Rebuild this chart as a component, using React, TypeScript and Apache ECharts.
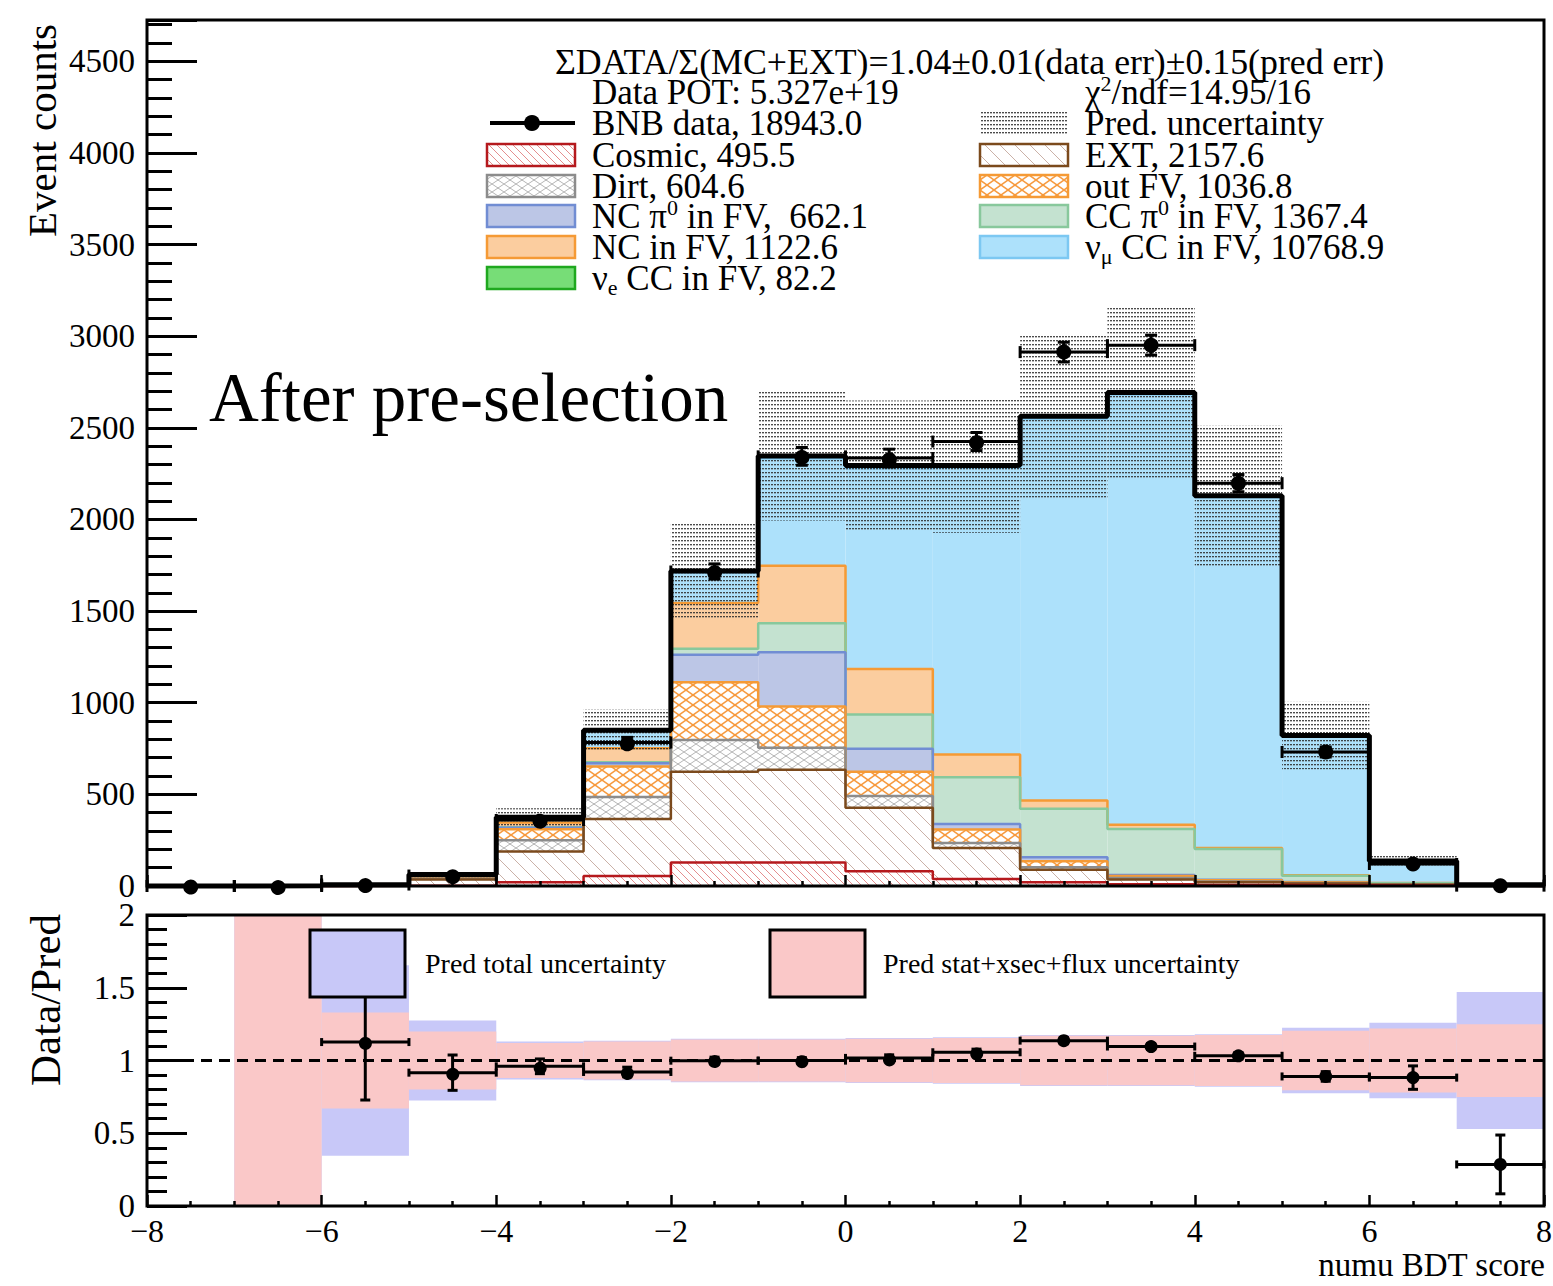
import React, { useEffect, useRef } from "react";
import * as echarts from "echarts";

const SERIF = "Liberation Serif";

// Bin edges of the numu BDT score histogram
const binEdges = [-8, -7, -6, -5, -4, -3, -2, -1, 0, 1, 2, 3, 4, 5, 6, 7, 8];

// Stacked prediction per bin, from the bottom of the stack to the top
const cosmic = [0, 0, 1, 3, 20, 55, 128, 128, 80, 38, 20, 10, 6, 4, 2, 0.5];
const ext = [0, 1.6, 3, 32, 168, 310, 495, 506, 347, 169, 68, 25, 15, 10, 5, 3];
const dirt = [0, 0, 1, 5, 62, 121, 173, 120, 64, 28, 14, 8, 4, 3, 1, 0.6];
const outFV = [0, 0, 1, 8, 60, 166, 316, 226, 131.8, 73, 33, 12, 6, 3, 1, 0];
const ncPi0InFV = [0, 0, 0.1, 2, 8, 18, 150, 295, 126, 30, 22, 5, 3, 2, 1, 0];
const ccPi0InFV = [0, 0, 0, 2, 3, 5, 33, 159, 187, 255, 265, 250.4, 168, 34, 5, 1];
const ncInFV = [0, 0, 0, 7, 25, 76, 249, 314, 248, 124.6, 45, 24, 6, 3, 1, 0];
const numuCCInFV = [0, 0, 1, 3, 28, 97, 166, 586, 1095.2, 1565.4, 2084, 2348.4, 1915, 759, 119, 1.9];
const nueCCInFV = [0, 0, 0, 0.2, 1, 2, 8, 12, 15, 12, 12, 10, 6, 3, 1, 0];

// Observed BNB events per bin
const bnbData = [0, 0, 8, 57, 360, 783, 1716, 2344, 2335, 2425, 2913, 2951, 2198, 731, 120, 2];

// Fractional uncertainty of the prediction per bin
const predTotalRelErr = [0, 2.5, 0.655, 0.275, 0.13, 0.135, 0.15, 0.15, 0.155, 0.16, 0.175, 0.175, 0.18, 0.225, 0.26, 0.47];
const predStatXsecFluxRelErr = [0, 2.5, 0.33, 0.2, 0.12, 0.13, 0.145, 0.145, 0.15, 0.155, 0.17, 0.17, 0.175, 0.205, 0.22, 0.25];

// Axis tick labels
const xTickValues = [-8, -6, -4, -2, 0, 2, 4, 6, 8];
const xTickLabels = ["\u22128", "\u22126", "\u22124", "\u22122", "0", "2", "4", "6", "8"];
const countTickValues = [0, 500, 1000, 1500, 2000, 2500, 3000, 3500, 4000, 4500];
const countTickLabels = ["0", "500", "1000", "1500", "2000", "2500", "3000", "3500", "4000", "4500"];
const ratioTickValues = [0, 0.5, 1, 1.5, 2];
const ratioTickLabels = ["0", "0.5", "1", "1.5", "2"];

const countAxisMax = 4725;
const ratioAxisMax = 2;

const sum = (a: number[]) => a.reduce((s, v) => s + v, 0);

function labelFrom(values: number[], labels: string[]) {
  return (v: number) => {
    const i = values.findIndex((t) => Math.abs(t - v) < 1e-6);
    return i >= 0 ? labels[i] : "";
  };
}

function makeCanvas(w: number, h: number, draw: (ctx: CanvasRenderingContext2D) => void) {
  const c = document.createElement("canvas");
  c.width = w;
  c.height = h;
  const ctx = c.getContext("2d") as CanvasRenderingContext2D;
  draw(ctx);
  return { image: c, repeat: "repeat", imageWidth: w, imageHeight: h };
}

// Diagonal hatching; "back" runs top-left to bottom-right, "fwd" the other way
function hatch(w: number, h: number, color: string, lw: number, dirs: string[]) {
  return makeCanvas(w, h, (ctx) => {
    ctx.strokeStyle = color;
    ctx.lineWidth = lw;
    for (const d of dirs) {
      for (const k of [-w, 0, w]) {
        ctx.beginPath();
        if (d === "back") {
          ctx.moveTo(k, 0);
          ctx.lineTo(k + w, h);
        } else {
          ctx.moveTo(k, h);
          ctx.lineTo(k + w, 0);
        }
        ctx.stroke();
      }
    }
  });
}

function dotted() {
  return makeCanvas(3, 4, (ctx) => {
    ctx.fillStyle = "rgba(30,30,30,0.8)";
    ctx.fillRect(0, 0, 2, 1);
    ctx.fillStyle = "rgba(110,110,110,0.45)";
    ctx.fillRect(0, 1, 2, 1);
  });
}

const stepLine = (h: number[]) =>
  h.flatMap((v, b) => [
    [binEdges[b], v],
    [binEdges[b + 1], v],
  ]);

const rectRenderer = (fill: any) => (params: any, api: any) => {
  const x0 = api.value(0);
  const x1 = api.value(1);
  const y0 = api.value(2);
  const y1 = api.value(3);
  if (!(y1 > y0)) return null;
  const a = api.coord([x0, y1]);
  const b = api.coord([x1, y0]);
  return {
    type: "rect",
    shape: { x: a[0], y: a[1], width: b[0] - a[0], height: b[1] - a[1] },
    style: { fill, stroke: null, lineWidth: 0 },
  };
};

const pointRenderer = (r: number, capH: number, capV: number, yMin: number, yMax: number) => (params: any, api: any) => {
  const xc = api.value(0);
  const v = api.value(1);
  const e = api.value(2);
  const hw = api.value(3);
  const c = api.coord([xc, v]);
  const l = api.coord([xc - hw, v]);
  const rr = api.coord([xc + hw, v]);
  const top = api.coord([xc, Math.min(yMax, v + e)]);
  const bot = api.coord([xc, Math.max(yMin, v - e)]);
  const s = { stroke: "#000", lineWidth: 3 };
  return {
    type: "group",
    children: [
      { type: "line", shape: { x1: l[0], y1: c[1], x2: rr[0], y2: c[1] }, style: s },
      { type: "line", shape: { x1: l[0], y1: c[1] - capH, x2: l[0], y2: c[1] + capH }, style: s },
      { type: "line", shape: { x1: rr[0], y1: c[1] - capH, x2: rr[0], y2: c[1] + capH }, style: s },
      { type: "line", shape: { x1: c[0], y1: top[1], x2: c[0], y2: bot[1] }, style: s },
      { type: "line", shape: { x1: c[0] - capV, y1: top[1], x2: c[0] + capV, y2: top[1] }, style: s },
      { type: "line", shape: { x1: c[0] - capV, y1: bot[1], x2: c[0] + capV, y2: bot[1] }, style: s },
      { type: "circle", shape: { cx: c[0], cy: c[1], r }, style: { fill: "#000" } },
    ],
  };
};

// Rich-text styles for sub- and superscripts inside a legend line
function richFor(size: number) {
  return {
    n: { fontFamily: SERIF, fontSize: size, lineHeight: 40, fill: "#000" },
    sub: { fontFamily: SERIF, fontSize: Math.round(size * 0.64), lineHeight: 20, verticalAlign: "bottom", fill: "#000" },
    sup: { fontFamily: SERIF, fontSize: Math.round(size * 0.64), lineHeight: 20, verticalAlign: "top", fill: "#000" },
  };
}

function text(x: number, y: number, t: string, size: number, opts: any = {}) {
  const align = opts.align || "left";
  return {
    type: "text",
    x,
    y,
    z: 30,
    silent: true,
    rotation: opts.rotation || 0,
    style: {
      text: t,
      fontFamily: SERIF,
      fontSize: size,
      fill: "#000",
      align,
      textAlign: align,
      verticalAlign: "middle",
      textVerticalAlign: "middle",
      rich: opts.rich,
    },
  };
}

export default function App() {
  const ref = useRef<HTMLDivElement>(null);

  useEffect(() => {
    if (!ref.current) return;
    const chart = echarts.init(ref.current, undefined, { renderer: "svg" });

    const patCosmic = hatch(8, 8, "rgba(205,50,50,0.55)", 1, ["back"]);
    const patExt = hatch(15, 15, "rgba(150,100,80,0.5)", 1, ["back"]);
    const patDirt = hatch(12, 8, "rgba(150,150,150,0.7)", 1, ["back", "fwd"]);
    const patOutFV = hatch(14, 10, "rgba(245,150,55,0.95)", 1.5, ["back", "fwd"]);
    const patUnc = dotted();

    const components = [
      { values: cosmic, fill: patCosmic, stroke: "#b5191d" },
      { values: ext, fill: patExt, stroke: "#7b4a1c" },
      { values: dirt, fill: patDirt, stroke: "#8c8c8c" },
      { values: outFV, fill: patOutFV, stroke: "#f59a35" },
      { values: ncPi0InFV, fill: "#bcc6e6", stroke: "#718dd3" },
      { values: ccPi0InFV, fill: "#c4e2d0", stroke: "#88c89c" },
      { values: ncInFV, fill: "#fbcd9f", stroke: "#f59a35" },
      { values: numuCCInFV, fill: "#ade1fb", stroke: "#7cc8f2" },
      { values: nueCCInFV, fill: "#77dd77", stroke: "#1fa81f" },
    ];

    const nBins = binEdges.length - 1;
    const series: any[] = [];
    const outlines: any[] = [];
    let lo = new Array(nBins).fill(0);
    components.forEach((c) => {
      const hi = lo.map((l, b) => l + c.values[b]);
      series.push({
        type: "custom",
        xAxisIndex: 0,
        yAxisIndex: 0,
        z: 2,
        silent: true,
        data: c.values.map((v, b) => [binEdges[b], binEdges[b + 1], lo[b], hi[b]]),
        renderItem: rectRenderer(c.fill),
      });
      outlines.push({
        type: "line",
        xAxisIndex: 0,
        yAxisIndex: 0,
        z: 3,
        silent: true,
        clip: false,
        symbol: "none",
        showSymbol: false,
        data: stepLine(hi),
        lineStyle: { color: c.stroke, width: 2.5 },
      });
      lo = hi;
    });
    const pred = lo;
    // upper stack outlines first, lower ones above them
    series.push(...outlines.reverse());

    // prediction uncertainty band
    series.push({
      type: "custom",
      xAxisIndex: 0,
      yAxisIndex: 0,
      z: 4,
      silent: true,
      data: pred.map((p, b) => [binEdges[b], binEdges[b + 1], Math.max(0, p * (1 - predTotalRelErr[b])), p * (1 + predTotalRelErr[b])]),
      renderItem: rectRenderer(patUnc),
    });

    // total prediction outline
    series.push({
      type: "line",
      xAxisIndex: 0,
      yAxisIndex: 0,
      z: 5,
      silent: true,
      clip: false,
      symbol: "none",
      showSymbol: false,
      data: stepLine(pred),
      lineStyle: { color: "#000", width: 5 },
    });

    // BNB data
    series.push({
      type: "custom",
      xAxisIndex: 0,
      yAxisIndex: 0,
      z: 6,
      silent: true,
      data: bnbData.map((n, b) => [(binEdges[b] + binEdges[b + 1]) / 2, n, Math.sqrt(n), 0.5]),
      renderItem: pointRenderer(7.5, 6, 6, 0, countAxisMax),
    });

    // ratio panel bands
    const bandItems = (rel: number[]) =>
      pred
        .map((p, b) => (p > 0 ? [binEdges[b], binEdges[b + 1], Math.max(0, 1 - rel[b]), Math.min(ratioAxisMax, 1 + rel[b])] : null))
        .filter((d) => d !== null);
    series.push({
      type: "custom",
      xAxisIndex: 1,
      yAxisIndex: 2,
      z: 2,
      silent: true,
      data: bandItems(predTotalRelErr),
      renderItem: rectRenderer("#c8c8f8"),
    });
    series.push({
      type: "custom",
      xAxisIndex: 1,
      yAxisIndex: 2,
      z: 3,
      silent: true,
      data: bandItems(predStatXsecFluxRelErr),
      renderItem: rectRenderer("#fac8c8"),
    });
    series.push({
      type: "line",
      xAxisIndex: 1,
      yAxisIndex: 2,
      z: 4,
      silent: true,
      clip: false,
      symbol: "none",
      showSymbol: false,
      data: [
        [binEdges[0], 1],
        [binEdges[nBins], 1],
      ],
      lineStyle: { color: "#000", width: 3, type: [11, 7] },
    });
    series.push({
      type: "custom",
      xAxisIndex: 1,
      yAxisIndex: 2,
      z: 6,
      silent: true,
      data: bnbData
        .map((n, b) => (n > 0 && pred[b] > 0 ? [(binEdges[b] + binEdges[b + 1]) / 2, n / pred[b], Math.sqrt(n) / pred[b], 0.5] : null))
        .filter((d) => d !== null),
      renderItem: pointRenderer(6.5, 4, 5, 0, ratioAxisMax),
    });

    const totData = sum(bnbData);
    const totPred = sum(pred);

    const LS = 35;
    const rich = richFor(LS);
    const colText = [592, 1085];
    const colSwatch = [487, 980];
    const rowY = [123, 155, 186, 216, 247, 278];
    const swatch = (col: number, row: number, fill: any, stroke: any) => ({
      type: "rect",
      z: 30,
      silent: true,
      shape: { x: colSwatch[col], y: rowY[row] - 11, width: 88, height: 22 },
      style: { fill, stroke, lineWidth: stroke ? 2.5 : 0 },
    });

    const graphic: any[] = [
      text(555, 62, `\u03a3DATA/\u03a3(MC+EXT)=${(totData / totPred).toFixed(2)}\u00b1${(Math.sqrt(totData) / totPred).toFixed(2)}(data err)\u00b10.15(pred err)`, 35.8),
      text(592, 92, "Data POT: 5.327e+19", LS),
      text(1085, 92, "{n|\u03c7}{sup|2}{n|/ndf=14.95/16}", LS, { rich }),

      { type: "line", z: 30, silent: true, shape: { x1: 490, y1: rowY[0], x2: 575, y2: rowY[0] }, style: { stroke: "#000", lineWidth: 4 } },
      { type: "circle", z: 30, silent: true, shape: { cx: 532, cy: rowY[0], r: 8 }, style: { fill: "#000" } },
      text(colText[0], rowY[0], `BNB data, ${totData.toFixed(1)}`, LS),
      swatch(1, 0, patUnc, null),
      text(colText[1], rowY[0], "Pred. uncertainty", LS),

      swatch(0, 1, patCosmic, "#b5191d"),
      text(colText[0], rowY[1], `Cosmic, ${sum(cosmic).toFixed(1)}`, LS),
      swatch(1, 1, patExt, "#7b4a1c"),
      text(colText[1], rowY[1], `EXT, ${sum(ext).toFixed(1)}`, LS),

      swatch(0, 2, patDirt, "#8c8c8c"),
      text(colText[0], rowY[2], `Dirt, ${sum(dirt).toFixed(1)}`, LS),
      swatch(1, 2, patOutFV, "#f59a35"),
      text(colText[1], rowY[2], `out FV, ${sum(outFV).toFixed(1)}`, LS),

      swatch(0, 3, "#bcc6e6", "#718dd3"),
      text(colText[0], rowY[3], `{n|NC \u03c0}{sup|0}{n| in FV,  ${sum(ncPi0InFV).toFixed(1)}}`, LS, { rich }),
      swatch(1, 3, "#c4e2d0", "#88c89c"),
      text(colText[1], rowY[3], `{n|CC \u03c0}{sup|0}{n| in FV, ${sum(ccPi0InFV).toFixed(1)}}`, LS, { rich }),

      swatch(0, 4, "#fbcd9f", "#f59a35"),
      text(colText[0], rowY[4], `NC in FV, ${sum(ncInFV).toFixed(1)}`, LS),
      swatch(1, 4, "#ade1fb", "#7cc8f2"),
      text(colText[1], rowY[4], `{n|\u03bd}{sub|\u03bc}{n| CC in FV, ${sum(numuCCInFV).toFixed(1)}}`, LS, { rich }),

      swatch(0, 5, "#77dd77", "#1fa81f"),
      text(colText[0], rowY[5], `{n|\u03bd}{sub|e}{n| CC in FV, ${sum(nueCCInFV).toFixed(1)}}`, LS, { rich }),

      text(209, 398, "After pre-selection", 69),

      text(42, 24, "Event counts", 41, { align: "right", rotation: Math.PI / 2 }),
      text(45, 914, "Data/Pred", 43, { align: "right", rotation: Math.PI / 2 }),
      text(1545, 1265, "numu BDT score", 33, { align: "right" }),

      // ratio panel legend
      { type: "rect", z: 30, silent: true, shape: { x: 310, y: 930, width: 95, height: 67 }, style: { fill: "#c8c8f8", stroke: "#000", lineWidth: 3 } },
      text(425, 963, "Pred total uncertainty", 28),
      { type: "rect", z: 30, silent: true, shape: { x: 770, y: 930, width: 95, height: 67 }, style: { fill: "#fac8c8", stroke: "#000", lineWidth: 3 } },
      text(883, 963, "Pred stat+xsec+flux uncertainty", 28),
    ];

    const gridCommon = {
      left: 147,
      right: 9,
      show: true,
      z: 10,
      borderColor: "#000",
      borderWidth: 3,
      backgroundColor: "transparent",
      containLabel: false,
      outerBoundsMode: "none",
    };

    const xAxisCommon = {
      type: "value",
      position: "bottom",
      min: binEdges[0],
      max: binEdges[nBins],
      interval: 2,
      z: 10,
      axisLine: { show: false, onZero: false },
      splitLine: { show: false },
      minorSplitLine: { show: false },
      axisTick: { show: true, inside: true, length: 11, lineStyle: { color: "#000", width: 2.5 } },
      minorTick: { show: true, splitNumber: 4, length: 5, lineStyle: { color: "#000", width: 2.5 } },
    };

    const option: any = {
      animation: false,
      backgroundColor: "#fff",
      textStyle: { fontFamily: SERIF },
      grid: [
        { ...gridCommon, top: 20, height: 866 },
        { ...gridCommon, top: 915, height: 291 },
      ],
      xAxis: [
        { ...xAxisCommon, gridIndex: 0, axisLabel: { show: false } },
        {
          ...xAxisCommon,
          gridIndex: 1,
          axisLabel: {
            show: true,
            color: "#000",
            fontFamily: SERIF,
            fontSize: 32,
            margin: 9,
            formatter: labelFrom(xTickValues, xTickLabels),
          },
        },
      ],
      yAxis: [
        {
          type: "value",
          gridIndex: 0,
          position: "left",
          min: 0,
          max: countAxisMax,
          interval: 500,
          z: 10,
          axisLine: { show: false, onZero: false },
          splitLine: { show: false },
          axisTick: { show: true, inside: true, length: 50, lineStyle: { color: "#000", width: 3 } },
          minorTick: { show: false },
          axisLabel: {
            show: true,
            color: "#000",
            fontFamily: SERIF,
            fontSize: 33,
            margin: 12,
            formatter: labelFrom(countTickValues, countTickLabels),
          },
        },
        {
          type: "value",
          gridIndex: 0,
          position: "left",
          offset: 0,
          min: 0,
          max: countAxisMax,
          interval: 100,
          z: 10,
          axisLine: { show: false, onZero: false },
          splitLine: { show: false },
          axisTick: { show: true, inside: true, length: 25, lineStyle: { color: "#000", width: 3 } },
          axisLabel: { show: false },
        },
        {
          type: "value",
          gridIndex: 1,
          position: "left",
          min: 0,
          max: ratioAxisMax,
          interval: 0.5,
          z: 10,
          axisLine: { show: false, onZero: false },
          splitLine: { show: false },
          minorSplitLine: { show: false },
          axisTick: { show: true, inside: true, length: 40, lineStyle: { color: "#000", width: 3 } },
          minorTick: { show: true, splitNumber: 5, length: 20, lineStyle: { color: "#000", width: 3 } },
          axisLabel: {
            show: true,
            color: "#000",
            fontFamily: SERIF,
            fontSize: 33,
            margin: 12,
            formatter: labelFrom(ratioTickValues, ratioTickLabels),
          },
        },
      ],
      series,
      graphic,
    };

    chart.setOption(option);
    return () => chart.dispose();
  }, []);

  return (
    <div
      ref={ref}
      style={{ position: "absolute", left: 0, top: 0, width: 1553, height: 1286, background: "#fff" }}
    />
  );
}
